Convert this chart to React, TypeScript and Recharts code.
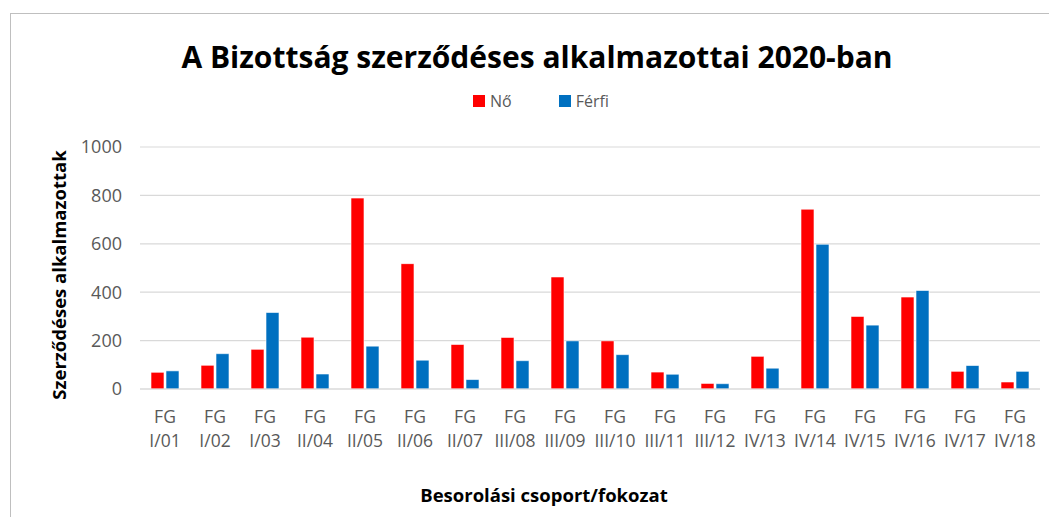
import React from 'react';
import { BarChart, Bar, XAxis, YAxis, CartesianGrid } from 'recharts';

const categories = [
  'FG I/01', 'FG I/02', 'FG I/03', 'FG II/04', 'FG II/05', 'FG II/06', 'FG II/07', 'FG III/08', 'FG III/09',
  'FG III/10', 'FG III/11', 'FG III/12', 'FG IV/13', 'FG IV/14', 'FG IV/15', 'FG IV/16', 'FG IV/17', 'FG IV/18',
];
const noValues = [69, 98, 164, 214, 789, 518, 184, 213, 463, 199, 70, 23, 135, 743, 300, 380, 73, 29];
const ferfiValues = [75, 146, 316, 62, 177, 119, 39, 117, 199, 142, 61, 22, 86, 598, 264, 407, 97, 73];
const yTicks = [0, 200, 400, 600, 800, 1000];
const seriesNames = ['Nő', 'Férfi'];
const seriesColors = ['#ff0000', '#0070c0'];

const data = categories.map((c, i) => ({ name: c, no: noValues[i], ferfi: ferfiValues[i] }));

const FONT = '"Open Sans", sans-serif';
const GRAY = '#595959';

const TwoLineTick = (props: any) => {
  const { x, y, payload } = props;
  const [a, b] = String(payload.value).split(' ');
  return (
    <text x={x} y={y} textAnchor="middle" fill={GRAY} fontSize={17.5} fontFamily={FONT}>
      <tspan x={x} dy={26}>{a}</tspan>
      <tspan x={x} dy={24}>{b}</tspan>
    </text>
  );
};

export default function App() {
  return (
    <div style={{ position: 'relative', width: 1049, height: 509, fontFamily: FONT }}>
      <div
        style={{
          position: 'absolute', top: 5, left: 2, right: 0, bottom: 0,
          borderTop: '1px solid #bfbfbf', borderLeft: '1px solid #bfbfbf',
        }}
      />
      <div
        style={{
          position: 'absolute', top: 30, left: 0, width: 1058, textAlign: 'center',
          fontSize: 30, fontWeight: 700, color: '#000', lineHeight: '38px',
        }}
      >
        A Bizottság szerződéses alkalmazottai 2020-ban
      </div>
      {/* legend */}
      <div
        style={{
          position: 'absolute', top: 81, left: 465, display: 'flex', alignItems: 'center',
          fontSize: 16, color: GRAY, lineHeight: '24px',
        }}
      >
        {seriesNames.map((n, i) => (
          <div key={n} style={{ display: 'flex', alignItems: 'center', marginRight: i === 0 ? 47 : 0 }}>
            <span style={{ width: 12, height: 12, background: seriesColors[i], display: 'inline-block', marginRight: 5 }} />
            <span>{n}</span>
          </div>
        ))}
      </div>
      <div
        style={{
          position: 'absolute', left: 50, top: 267, transform: 'translate(-50%, -50%) rotate(-90deg)',
          whiteSpace: 'nowrap', fontSize: 18.5, fontWeight: 700, color: '#000',
        }}
      >
        Szerződéses alkalmazottak
      </div>
      <div
        style={{
          position: 'absolute', left: 536, top: 486, transform: 'translate(-50%, -50%)',
          whiteSpace: 'nowrap', fontSize: 18.5, fontWeight: 700, color: '#000',
        }}
      >
        Besorolási csoport/fokozat
      </div>
      <BarChart
        width={1049}
        height={509}
        data={data}
        margin={{ top: 139, right: 17, left: 0, bottom: 68 }}
        barCategoryGap="22%"
        barGap={2}
        style={{ position: 'absolute', top: 0, left: 0 }}
      >
        <CartesianGrid vertical={false} stroke="#d9d9d9" strokeWidth={1.2} />
        <XAxis
          dataKey="name"
          interval={0}
          height={60}
          tick={<TwoLineTick />}
          tickLine={false}
          axisLine={{ stroke: '#d9d9d9', strokeWidth: 1.2 }}
        />
        <YAxis
          width={132}
          domain={[0, 1000]}
          ticks={yTicks}
          tickLine={false}
          axisLine={false}
          tickMargin={12}
          tick={{ fill: GRAY, fontSize: 18, fontFamily: FONT }}
        />
        <Bar dataKey="no" name={seriesNames[0]} fill={seriesColors[0]} stroke="#ffffff" strokeWidth={0.6} isAnimationActive={false} />
        <Bar dataKey="ferfi" name={seriesNames[1]} fill={seriesColors[1]} stroke="#ffffff" strokeWidth={0.6} isAnimationActive={false} />
      </BarChart>
    </div>
  );
}
